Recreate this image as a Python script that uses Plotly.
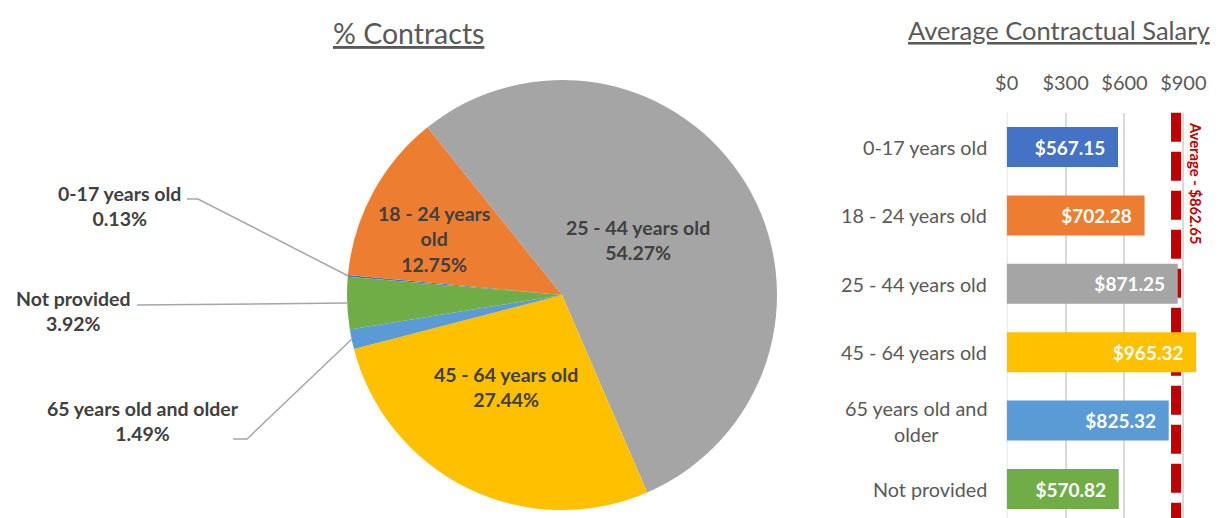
import math
import plotly.graph_objects as go

# ---------------- data ----------------
categories = ["0-17 years old", "18 - 24 years old", "25 - 44 years old",
              "45 - 64 years old", "65 years old and older", "Not provided"]
contract_pct = [0.13, 12.75, 54.27, 27.44, 1.49, 3.92]
avg_salary = [567.15, 702.28, 871.25, 965.32, 825.32, 570.82]
overall_avg = 862.65
salary_ticks = [0, 300, 600, 900]
salary_tick_labels = ["$0", "$300", "$600", "$900"]
slice_colors = ["#4472C4", "#ED7D31", "#A5A5A5", "#FFC000", "#5B9BD5", "#70AD47"]

# ---------------- layout helpers ----------------
OFF = 8                      # page body margin
W, H = 1219 - OFF, 518 - OFF
FONT = "Lato"
GREY_TXT = "#595959"
DARK_TXT = "#404040"


def px(x):
    return (x - OFF) / W


def py(y):
    return 1 - (y - OFF) / H


PIE_CX, PIE_CY, PIE_R = 562, 295, 215
ROT = 274.9  # start angle, degrees clockwise from 12 o'clock

fig = go.Figure()

fig.add_trace(go.Pie(
    values=contract_pct, labels=categories, sort=False, direction="clockwise",
    rotation=ROT - 360, marker=dict(colors=slice_colors, line=dict(width=0)),
    textinfo="none", hoverinfo="label+percent", showlegend=False, automargin=False,
    domain=dict(x=[px(PIE_CX - PIE_R), px(PIE_CX + PIE_R)],
                y=[py(PIE_CY + PIE_R), py(PIE_CY - PIE_R)]),
))

fig.add_trace(go.Bar(
    y=categories, x=avg_salary, orientation="h",
    marker=dict(color=slice_colors, line=dict(width=0)), width=0.585,
    texttemplate="<b>$%{x:.2f}</b>\u00a0\u00a0", textposition="inside",
    insidetextanchor="end", textangle=0,
    textfont=dict(family=FONT, size=19, color="white"),
    showlegend=False, xaxis="x", yaxis="y", cliponaxis=False,
))

# mid-angles of slices (from data)
total = sum(contract_pct)
mids = []
cum = ROT
for v in contract_pct:
    span = v / total * 360
    mids.append(cum + span / 2)
    cum += span


def edge_point(i):
    a = math.radians(mids[i])
    return PIE_CX + PIE_R * math.sin(a), PIE_CY - PIE_R * math.cos(a)


annotations = []
shapes = []


def label(text, x, y, size, color, **kw):
    d = dict(text=text, x=px(x), y=py(y), xref="paper", yref="paper", showarrow=False,
             xanchor="center", yanchor="middle", align="center",
             font=dict(family=FONT, size=size, color=color))
    d.update(kw)
    annotations.append(d)


# titles
label("<u>% Contracts</u>", 408, 33, 28.5, GREY_TXT)
label("<u>Average Contractual Salary</u>", 1059, 30, 25.5, GREY_TXT)

# pie labels
pct_txt = [f"{v:.2f}%" for v in contract_pct]
pie_label_pos = {
    1: ("18 - 24 years<br>old", 434, 239),
    2: ("25 - 44 years old", 638, 240),
    3: ("45 - 64 years old", 506, 387),
    0: ("0-17 years old", 119, 206),
    5: ("Not provided", 73, 311),
    4: ("65 years old and older", 143, 421),
}
for i, (name, x, y) in pie_label_pos.items():
    label(f"<b>{name}<br>{pct_txt[i]}</b>", x, y, 19.5, DARK_TXT)

# leader lines for outside labels
leaders = {
    0: [(187, 199), (198, 199)],
    5: [(137, 305)],
    4: [(233, 439), (247, 439)],
}
for i, pts in leaders.items():
    ex, ey = edge_point(i)
    allp = pts + [(ex, ey)]
    path = "M " + " L ".join(f"{px(x):.5f},{py(y):.5f}" for x, y in allp)
    shapes.append(dict(type="path", path=path, xref="paper", yref="paper",
                       line=dict(color="#A6A6A6", width=1.5)))

# bar category labels
bar_names = {"65 years old and older": "65 years old and<br>older"}
for c in categories:
    annotations.append(dict(text=bar_names.get(c, c), x=px(989), y=c, xref="paper", yref="y",
                            xanchor="right", yanchor="middle", showarrow=False, align="center",
                            font=dict(family=FONT, size=19.8, color=GREY_TXT)))

Y_TOP = py(112.8)
# gridline at $0 (plotly drops the edge gridline)
shapes.append(dict(type="line", xref="x", yref="paper", x0=0, x1=0, y0=0, y1=Y_TOP,
                   layer="below", line=dict(color="#D9D9D9", width=1.5)))
# average line
shapes.append(dict(type="line", xref="x", yref="paper", x0=overall_avg, x1=overall_avg,
                   y0=Y_TOP, y1=0, layer="below",
                   line=dict(color="#C00000", width=10, dash="29px,10px")))
annotations.append(dict(text=f"<b>Average - ${overall_avg:.2f}</b>", x=overall_avg, xref="x",
                        xshift=20, y=py(183), yref="paper", textangle=90, showarrow=False,
                        xanchor="center", yanchor="middle",
                        font=dict(family=FONT, size=14.8, color="#C00000")))

X0 = 1006.7
SCALE = 0.1963
fig.update_layout(
    width=W, height=H, autosize=False,
    margin=dict(l=0, r=0, t=0, b=0, pad=0),
    paper_bgcolor="white", plot_bgcolor="white",
    font=dict(family=FONT, color=GREY_TXT),
    xaxis=dict(domain=[px(X0), px(X0 + 1000 * SCALE)], range=[0, 1000], side="top",
               tickvals=salary_ticks, ticktext=salary_tick_labels,
               tickfont=dict(family=FONT, size=20, color=GREY_TXT),
               showgrid=True, gridcolor="#D9D9D9", gridwidth=1.5, zeroline=False,
               showline=False, ticks="", ticklabelstandoff=18, fixedrange=True,
               automargin=False),
    yaxis=dict(domain=[0, Y_TOP], range=[5.424, -0.5], type="category",
               categoryorder="array", categoryarray=categories, automargin=False,
               showticklabels=False, showgrid=False, zeroline=False, ticks="", fixedrange=True),
    annotations=annotations, shapes=shapes,
    bargap=0.4,
)

fig.write_html("out.html")
